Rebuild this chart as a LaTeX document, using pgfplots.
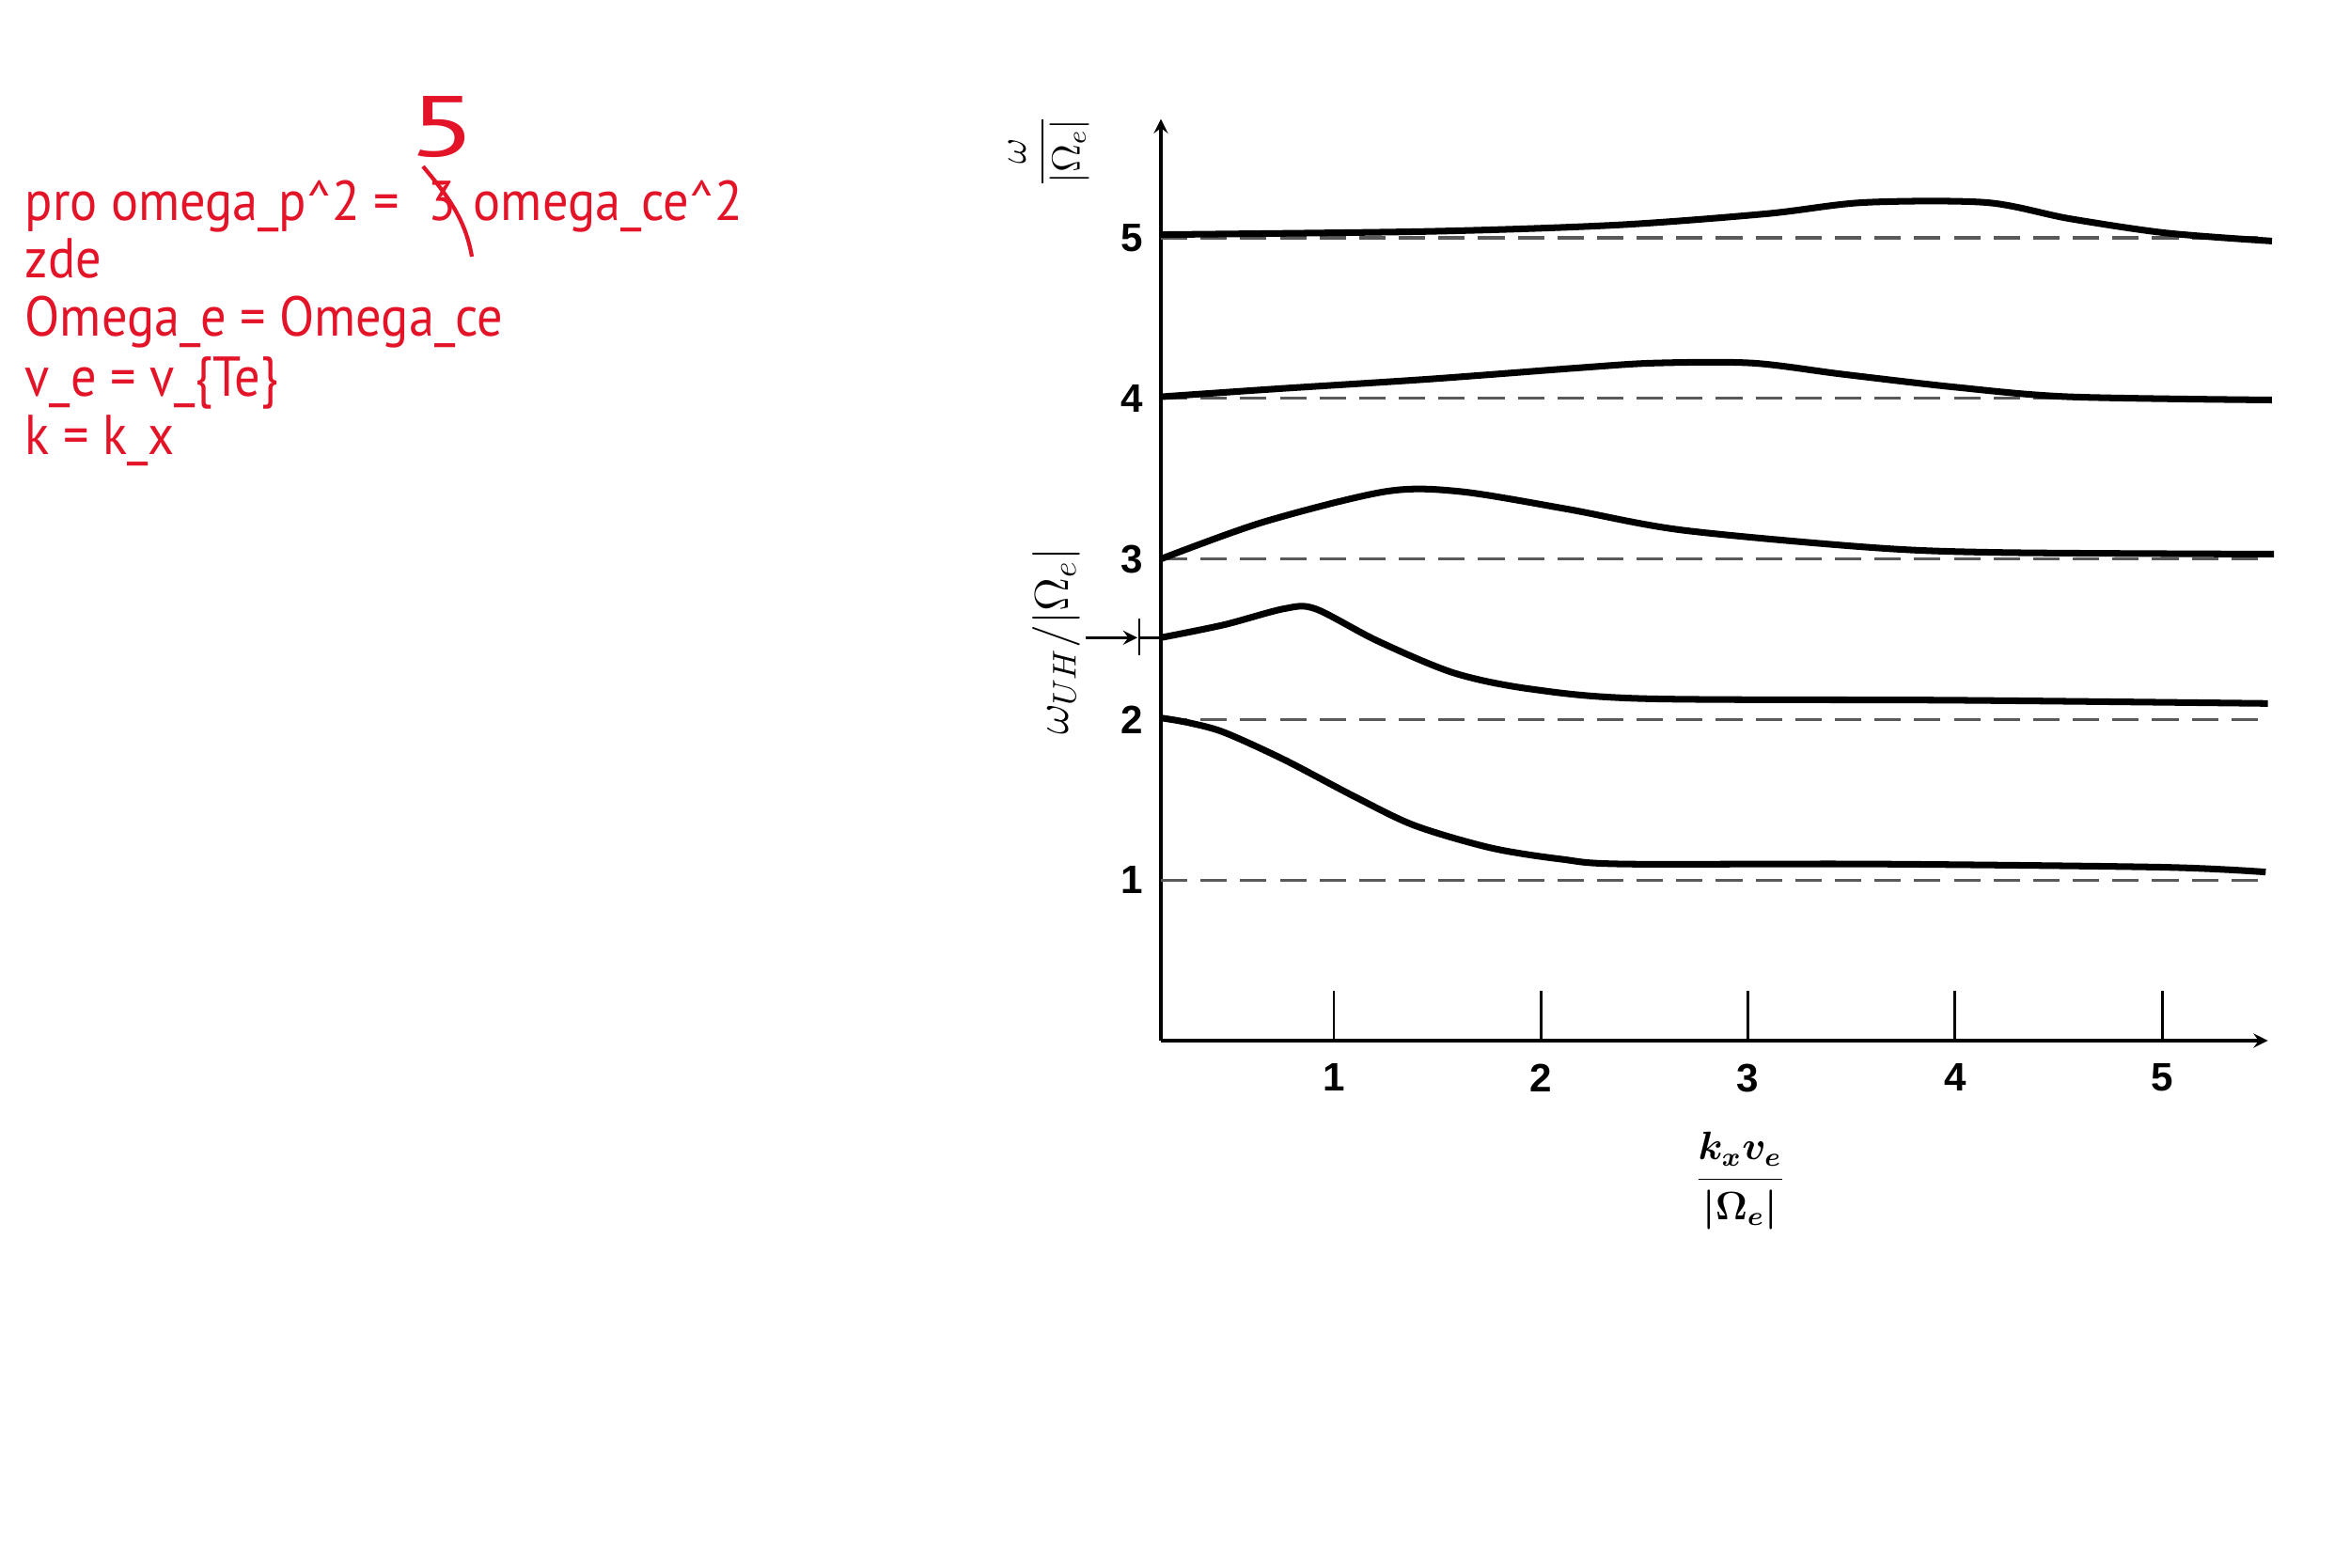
\documentclass[border=0pt]{standalone}
\usepackage{amsmath}
\usepackage{fontspec}
\setsansfont{Liberation Sans}
\newfontfamily\handfont[FakeStretch=0.91]{PT Sans}
\usepackage{graphicx}
\usepackage{pgfplots}
\pgfplotsset{compat=1.18}
\usetikzlibrary{arrows.meta}
\definecolor{penred}{RGB}{228,20,40}
\definecolor{dashgray}{gray}{0.35}
\newsavebox\xlabbox
\newsavebox\ylabbox
\newsavebox\uhlabbox

\begin{document}
\sbox\xlabbox{\large\boldmath$\displaystyle\frac{k_x v_e}{\lvert\Omega_e\rvert}$}%
\sbox\ylabbox{\large$\displaystyle\frac{\omega}{\lvert\Omega_e\rvert}$}%
\sbox\uhlabbox{\Large$\omega_{UH}/\lvert\Omega_e\rvert$}%
\begin{tikzpicture}[x=1cm,y=1cm]
\useasboundingbox (0,0) rectangle (25,16.67);
\begin{scope}[every node/.style={anchor=base west, inner sep=0pt, text=penred, font={\handfont\fontsize{17}{20}\selectfont}}]
\path (0.26,14.32) node {pro omega\_p\textasciicircum 2 =};
\path (4.55,14.32) node {3};
\path (5.03,14.32) node {omega\_ce\textasciicircum 2};
\path (0.26,13.72) node {zde};
\path (0.26,13.10) node {Omega\_e = Omega\_ce};
\path (0.26,12.46) node {v\_e = v\_\{Te\}};
\path (0.26,11.84) node {k = k\_x};
\end{scope}
\path (4.71,15.32) node[text=penred, inner sep=0pt, font={\handfont\fontsize{26}{28}\selectfont}] {\scalebox{1.6}[1]{5}};
\draw[penred, line width=1.2pt] (4.50,14.90) .. controls (4.75,14.60) and (4.95,14.35) .. (5.02,13.94);
\path (18.51,4.11) node {\usebox\xlabbox};
\path (11.16,15.06) node[rotate=90] {\usebox\ylabbox};
\path (11.24,9.85) node[rotate=90] {\usebox\uhlabbox};
\draw[line width=0.9pt, -stealth] (11.55,9.887) -- (12.10,9.887);
\draw[line width=0.7pt] (12.12,9.70) -- (12.12,10.09);
\draw[line width=0.9pt] (12.12,9.887) -- (12.35,9.887);
\begin{axis}[
  at={(12.35cm,5.60cm)}, anchor=south west,
  x=2.203cm, y=1.708cm,
  xmin=0.165, xmax=5.51, ymin=0, ymax=5.74,
  axis lines=left,
  axis line style={line width=0.9pt, -stealth},
  clip=false,
  xtick={1,2,3,4,5}, ytick={1,2,3,4,5},
  tick align=inside,
  major tick length=0.53cm,
  x tick style={line width=0.8pt, black},
  y tick style={draw=none},
  ticklabel style={font=\sffamily\bfseries\large},
  xticklabel style={yshift=-3.5pt},
  yticklabel style={xshift=-2pt},
  /pgf/number format/assume math mode=true,
]
\addplot[dashgray, line width=0.9pt, dash pattern=on 8pt off 4pt] coordinates {(0.165,1) (5.48,1)};
\addplot[dashgray, line width=0.9pt, dash pattern=on 8pt off 4pt] coordinates {(0.165,2) (5.48,2)};
\addplot[dashgray, line width=0.9pt, dash pattern=on 8pt off 4pt] coordinates {(0.165,3) (5.48,3)};
\addplot[dashgray, line width=0.9pt, dash pattern=on 8pt off 4pt] coordinates {(0.165,4) (5.48,4)};
\addplot[dashgray, line width=0.9pt, dash pattern=on 8pt off 4pt] coordinates {(0.165,5) (5.48,5)};
\addplot[black, line width=2pt, smooth] coordinates {
 (0.165,2.01) (0.30,1.98) (0.47,1.92) (0.76,1.75) (1.10,1.52) (1.39,1.34)
 (1.76,1.20) (2.10,1.13) (2.40,1.10) (3.60,1.10) (5.00,1.08) (5.50,1.05)};
\addplot[black, line width=2pt, smooth] coordinates {
 (0.165,2.51) (0.47,2.59) (0.76,2.69) (0.91,2.69) (1.21,2.49) (1.58,2.29)
 (1.95,2.19) (2.50,2.13) (4.00,2.12) (5.51,2.10)};
\addplot[black, line width=2pt, smooth] coordinates {
 (0.165,3.00) (0.66,3.23) (1.25,3.42) (1.61,3.42) (2.13,3.31) (2.68,3.18)
 (3.61,3.07) (4.23,3.04) (5.54,3.03)};
\addplot[black, line width=2pt, smooth] coordinates {
 (0.165,4.01) (0.73,4.06) (1.46,4.12) (2.18,4.19) (2.55,4.22) (3.02,4.22)
 (3.46,4.15) (4.00,4.07) (4.55,4.01) (5.53,3.99)};
\addplot[black, line width=2pt, smooth] coordinates {
 (0.165,5.02) (1.46,5.04) (2.37,5.08) (3.09,5.15) (3.56,5.22) (4.15,5.22)
 (4.55,5.12) (5.02,5.03) (5.53,4.98)};
\end{axis}
\end{tikzpicture}
\end{document}
